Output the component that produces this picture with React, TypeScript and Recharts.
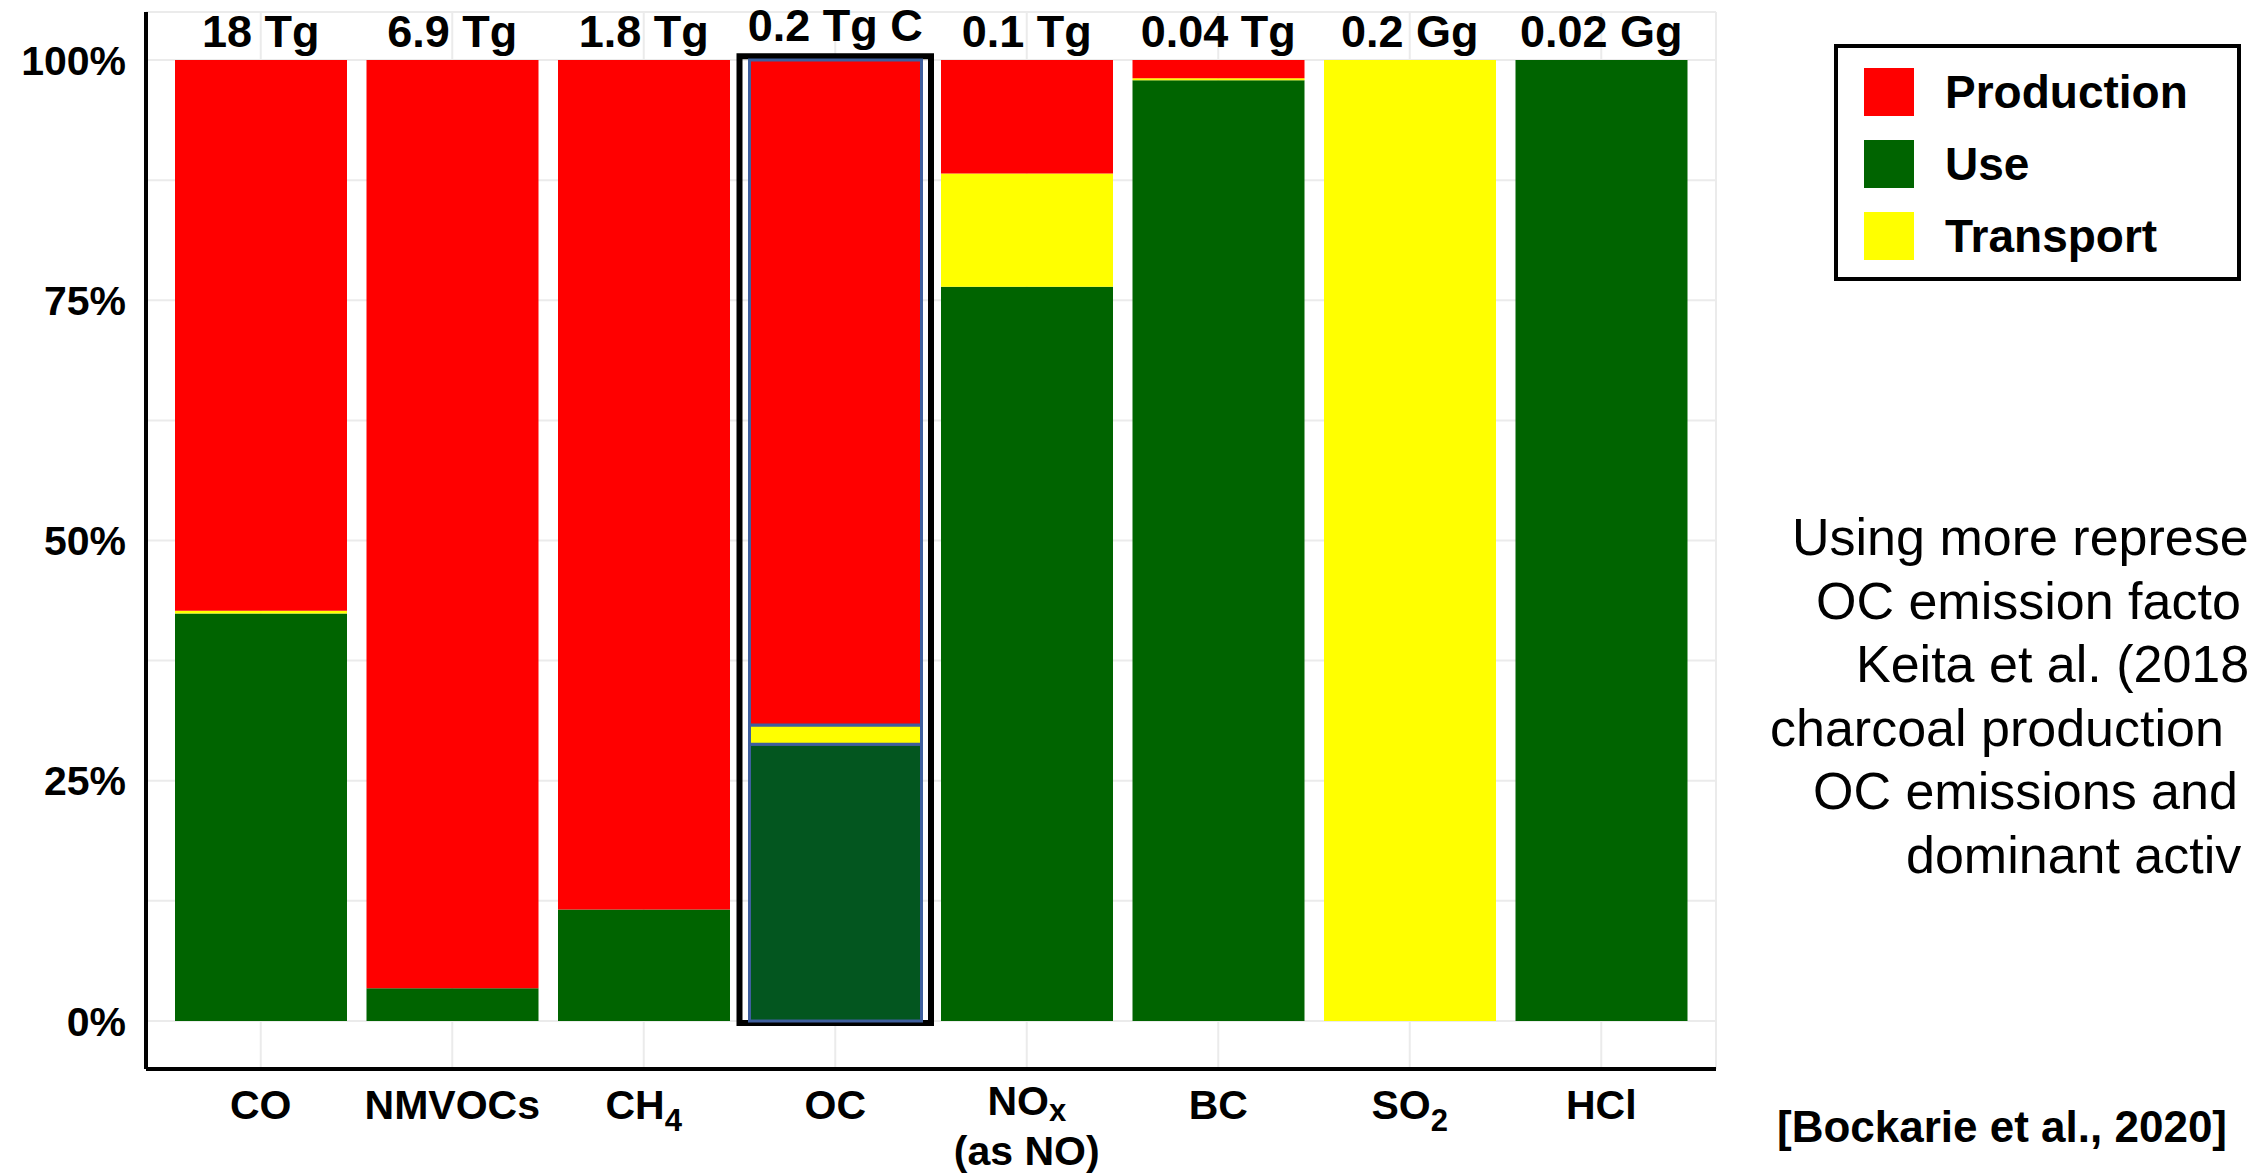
import React from 'react';
import { BarChart, Bar, XAxis, YAxis, CartesianGrid, Cell, ReferenceArea } from 'recharts';

const categories = ['CO', 'NMVOCs', 'CH4', 'OC', 'NOx', 'BC', 'SO2', 'HCl'];
const totals = ['18 Tg', '6.9 Tg', '1.8 Tg', '0.2 Tg C', '0.1 Tg', '0.04 Tg', '0.2 Gg', '0.02 Gg'];
const useShare = [0.424, 0.034, 0.116, 0.288, 0.764, 0.979, 0, 1];
const transportShare = [0.003, 0, 0, 0.02, 0.118, 0.002, 1, 0];
const productionShare = [0.573, 0.966, 0.884, 0.692, 0.118, 0.019, 0, 0];
const yTicks = [0, 0.125, 0.25, 0.375, 0.5, 0.625, 0.75, 0.875, 1];
const legendLabels = ['Production', 'Use', 'Transport'];
const noteLines = [
  'Using more represe',
  'OC emission facto',
  'Keita et al. (2018',
  'charcoal production',
  'OC emissions and',
  'dominant activ',
];
const citation = '[Bockarie et al., 2020]';
const highlighted = 'OC';

const COLORS: Record<string, string> = {
  Production: '#ff0000',
  Use: '#006400',
  Transport: '#ffff00',
};
const HIGHLIGHT_GREEN = '#03561f';
const HIGHLIGHT_STROKE = '#3f5f9e';

const data = categories.map((c, i) => ({
  category: c,
  total: totals[i],
  use: useShare[i],
  transport: transportShare[i],
  production: productionShare[i],
}));

const FONT = '"Liberation Sans", Arial, Helvetica, sans-serif';

const BottomTick = (props: any) => {
  const { x, y, payload } = props;
  const v = payload.value as string;
  const common: any = { textAnchor: 'middle', fontFamily: FONT, fontWeight: 700, fontSize: 41, fill: '#000' };
  if (v === 'CH4' || v === 'SO2') {
    return (
      <text x={x} y={y + 50} {...common}>
        {v.slice(0, -1)}
        <tspan fontSize={31} dy={12}>{v.slice(-1)}</tspan>
      </text>
    );
  }
  if (v === 'NOx') {
    return (
      <text x={x} y={y + 46} {...common}>
        NO<tspan fontSize={31} dy={6}>x</tspan>
        <tspan x={x} dy={44}>(as NO)</tspan>
      </text>
    );
  }
  return (
    <text x={x} y={y + 50} {...common}>
      {v}
    </text>
  );
};

const TopTick = (props: any) => {
  const { x, y, payload } = props;
  const v = payload.value as string;
  const isHi = data[payload.index]?.category === highlighted;
  return (
    <text
      x={x}
      y={y + (isHi ? 29 : 35)}
      textAnchor="middle"
      fontFamily={FONT}
      fontWeight={700}
      fontSize={45}
      fill="#000"
    >
      {v}
    </text>
  );
};

const LegendBox = () => (
  <div
    style={{
      position: 'absolute',
      left: 1834,
      top: 44,
      boxSizing: 'border-box',
      width: 407,
      height: 237,
      border: '4px solid #000',
      background: '#fff',
    }}
  >
    {legendLabels.map((l, i) => (
      <div
        key={l}
        style={{
          position: 'absolute',
          left: 26,
          top: 19 + i * 72,
          display: 'flex',
          alignItems: 'center',
          height: 50,
        }}
      >
        <div style={{ width: 50, height: 48, background: COLORS[l] }} />
        <span
          style={{
            marginLeft: 31,
            fontFamily: FONT,
            fontWeight: 700,
            fontSize: 46,
            color: '#000',
            lineHeight: '50px',
          }}
        >
          {l}
        </span>
      </div>
    ))}
  </div>
);

const yFmt = (v: number) => (Math.abs((v * 4) % 1) < 1e-9 ? `${Math.round(v * 100)}%` : '');

export default function App() {
  const noteX = [1792, 1816, 1856, 1770, 1813, 1906];
  return (
    <div
      style={{
        position: 'absolute',
        left: 0,
        top: 0,
        width: 2248,
        height: 1174,
        overflow: 'hidden',
        background: '#fff',
      }}
    >
      <BarChart
        width={2248}
        height={1174}
        data={data}
        margin={{ top: 0, right: 532, bottom: 0, left: 0 }}
        barSize={172}
      >
        <CartesianGrid stroke="#ebebeb" strokeWidth={2} />
        <XAxis
          dataKey="category"
          height={105}
          padding={{ left: 19, right: 19 }}
          tick={<BottomTick />}
          tickLine={false}
          tickSize={0}
          tickMargin={0}
          axisLine={{ stroke: '#000', strokeWidth: 4 }}
          interval={0}
        />
        <XAxis
          xAxisId="top"
          orientation="top"
          dataKey="total"
          height={12}
          padding={{ left: 19, right: 19 }}
          tick={<TopTick />}
          tickLine={false}
          tickSize={0}
          tickMargin={0}
          axisLine={false}
          interval={0}
        />
        <YAxis
          width={146}
          domain={[-0.05, 1.05]}
          ticks={yTicks}
          allowDataOverflow
          tickFormatter={yFmt}
          tickLine={false}
          tickSize={6}
          tickMargin={14}
          axisLine={{ stroke: '#000', strokeWidth: 4 }}
          tick={{ fontFamily: FONT, fontWeight: 700, fontSize: 41, fill: '#000' }}
          interval={0}
        />
        <Bar dataKey="use" name="Use" stackId="s" fill={COLORS.Use} isAnimationActive={false}>
          {data.map((d) => (
            <Cell
              key={d.category}
              fill={d.category === highlighted ? HIGHLIGHT_GREEN : COLORS.Use}
              stroke={d.category === highlighted ? HIGHLIGHT_STROKE : 'none'}
              strokeWidth={d.category === highlighted ? 3 : 0}
            />
          ))}
        </Bar>
        <Bar dataKey="transport" name="Transport" stackId="s" fill={COLORS.Transport} isAnimationActive={false}>
          {data.map((d) => (
            <Cell
              key={d.category}
              fill={COLORS.Transport}
              stroke={d.category === highlighted ? HIGHLIGHT_STROKE : 'none'}
              strokeWidth={d.category === highlighted ? 3 : 0}
            />
          ))}
        </Bar>
        <Bar dataKey="production" name="Production" stackId="s" fill={COLORS.Production} isAnimationActive={false}>
          {data.map((d) => (
            <Cell
              key={d.category}
              fill={COLORS.Production}
              stroke={d.category === highlighted ? HIGHLIGHT_STROKE : 'none'}
              strokeWidth={d.category === highlighted ? 3 : 0}
            />
          ))}
        </Bar>
        <ReferenceArea
          x1={highlighted}
          x2={highlighted}
          y1={-0.002}
          y2={1.004}
          fill="none"
          fillOpacity={0}
          stroke="#000"
          strokeWidth={6}
          ifOverflow="visible"
        />
      </BarChart>
      <LegendBox />
      <svg
        width={2248}
        height={1174}
        style={{ position: 'absolute', left: 0, top: 0, pointerEvents: 'none' }}
      >
        {noteLines.map((line, i) => (
          <text
            key={i}
            x={noteX[i]}
            y={555 + i * 63.6}
            fontFamily={FONT}
            fontSize={52}
            fill="#000"
          >
            {line}
          </text>
        ))}
        <text x={1777} y={1142} fontFamily={FONT} fontWeight={700} fontSize={44} fill="#000">
          {citation}
        </text>
      </svg>
    </div>
  );
}
